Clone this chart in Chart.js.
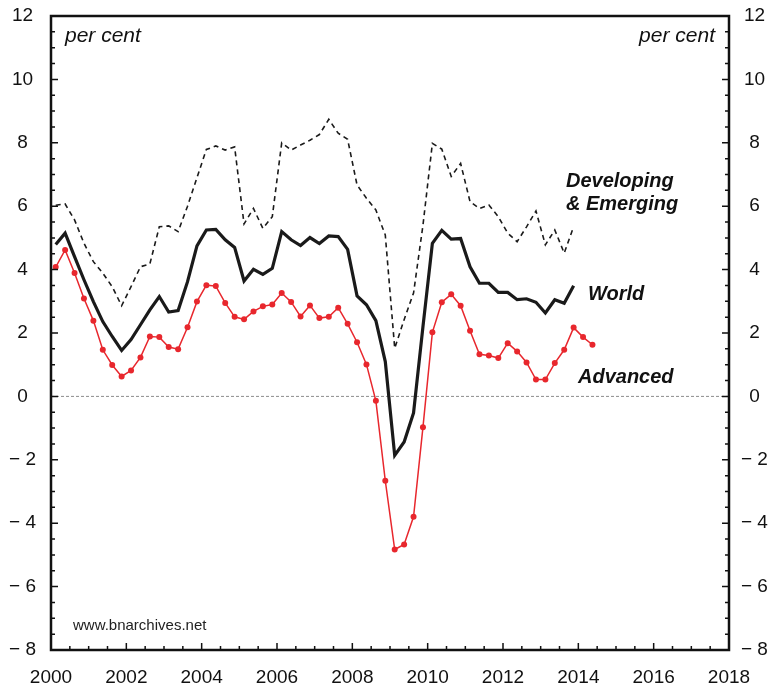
<!DOCTYPE html>
<html>
<head>
<meta charset="utf-8">
<script src="https://cdn.jsdelivr.net/npm/chart.js@4"></script>
<style>
  html, body { margin: 0; padding: 0; background: #fff; }
</style>
</head>
<body>
<canvas id="chart" width="777" height="686"></canvas>
<script>
// quarterly growth rates, per cent, starting 2000 Q1
const advanced = [4.08, 4.62, 3.89, 3.09, 2.39, 1.47, 0.99, 0.63, 0.82, 1.23,
  1.89, 1.87, 1.56, 1.49, 2.18, 2.99, 3.51, 3.48, 2.95, 2.51,
  2.43, 2.68, 2.84, 2.90, 3.26, 2.98, 2.52, 2.87, 2.47, 2.51,
  2.80, 2.29, 1.71, 1.01, -0.14, -2.66, -4.83, -4.67, -3.80, -0.97,
  2.02, 2.97, 3.22, 2.86, 2.07, 1.33, 1.29, 1.21, 1.68, 1.42,
  1.07, 0.53, 0.53, 1.05, 1.47, 2.17, 1.87, 1.63];
const world = [4.79, 5.15, 4.41, 3.68, 2.99, 2.36, 1.89, 1.45, 1.79, 2.26,
  2.73, 3.15, 2.66, 2.71, 3.62, 4.75, 5.25, 5.27, 4.94, 4.70,
  3.64, 4.01, 3.85, 4.04, 5.20, 4.94, 4.76, 5.01, 4.82, 5.06,
  5.04, 4.64, 3.17, 2.89, 2.39, 1.10, -1.86, -1.44, -0.52, 2.20,
  4.83, 5.24, 4.96, 4.98, 4.09, 3.57, 3.57, 3.28, 3.28, 3.05,
  3.08, 2.97, 2.63, 3.05, 2.94, 3.49];
const developing = [6.03, 6.07, 5.57, 4.83, 4.25, 3.89, 3.46, 2.86, 3.46, 4.09,
  4.18, 5.35, 5.38, 5.20, 6.00, 6.90, 7.79, 7.90, 7.77, 7.87,
  5.44, 5.93, 5.30, 5.67, 8.00, 7.77, 7.93, 8.08, 8.26, 8.74,
  8.30, 8.11, 6.67, 6.25, 5.88, 5.09, 1.52, 2.42, 3.26, 5.40,
  7.98, 7.80, 6.94, 7.35, 6.14, 5.93, 6.04, 5.67, 5.15, 4.88,
  5.35, 5.85, 4.78, 5.25, 4.52, 5.35];

const startYear = 2000;
const xLabelYears = [2000, 2002, 2004, 2006, 2008, 2010, 2012, 2014, 2016, 2018];
const yLabelValues = [-8, -6, -4, -2, 0, 2, 4, 6, 8, 10, 12];

const FONT = "'Liberation Sans', Arial, Helvetica, sans-serif";

// each quarter plotted at its middle
const toPoints = arr => arr.map((v, i) => ({ x: startYear + (i + 0.5) / 4, y: v }));

const yLabel = v => {
  if (!yLabelValues.includes(v)) return '';
  return v < 0 ? '\u2212 ' + Math.abs(v) : String(v);
};

const framePlugin = {
  id: 'frame',
  beforeDatasetsDraw(chart) {
    const { ctx, chartArea: a, scales: { y } } = chart;
    const y0 = y.getPixelForValue(0);
    ctx.save();
    ctx.strokeStyle = '#8c8c8c';
    ctx.lineWidth = 1;
    ctx.setLineDash([3, 2]);
    ctx.beginPath();
    ctx.moveTo(a.left, y0);
    ctx.lineTo(a.right, y0);
    ctx.stroke();
    ctx.restore();
  },
  afterDraw(chart) {
    const { ctx, chartArea: a, scales: { x, y } } = chart;
    ctx.save();
    ctx.strokeStyle = '#111';
    ctx.lineWidth = 1.5;
    ctx.beginPath();
    x.ticks.forEach(t => {
      const px = x.getPixelForValue(t.value);
      const len = xLabelYears.includes(t.value) ? 7 : 4;
      ctx.moveTo(px, a.bottom);
      ctx.lineTo(px, a.bottom - len);
    });
    y.ticks.forEach(t => {
      const py = y.getPixelForValue(t.value);
      const len = yLabelValues.includes(t.value) ? 7 : 4;
      ctx.moveTo(a.left, py);
      ctx.lineTo(a.left + len, py);
      ctx.moveTo(a.right, py);
      ctx.lineTo(a.right - len, py);
    });
    ctx.stroke();

    ctx.lineWidth = 2.5;
    ctx.strokeRect(a.left, a.top, a.right - a.left, a.bottom - a.top);

    ctx.fillStyle = '#111';
    ctx.textBaseline = 'middle';
    ctx.font = 'italic 21px ' + FONT;
    ctx.textAlign = 'left';
    ctx.fillText('per cent', 65, 36);
    ctx.textAlign = 'right';
    ctx.fillText('per cent', 715, 36);

    ctx.textAlign = 'left';
    ctx.font = 'italic bold 20px ' + FONT;
    ctx.fillText('Developing', 566, 181);
    ctx.fillText('& Emerging', 566, 204);
    ctx.fillText('World', 588, 294);
    ctx.fillText('Advanced', 578, 377);

    ctx.font = '15px ' + FONT;
    ctx.fillStyle = '#222';
    ctx.fillText('www.bnarchives.net', 73, 626);
    ctx.restore();
  }
};

const tickFont = { family: FONT, size: 19 };

const fitY = width => s => {
  s.width = width;
  s.paddingTop = 0;
  s.paddingBottom = 0;
};

new Chart(document.getElementById('chart'), {
  type: 'line',
  data: {
    datasets: [
      {
        label: 'Advanced',
        data: toPoints(advanced),
        borderColor: '#e8272d',
        backgroundColor: '#e8272d',
        borderWidth: 1.5,
        pointRadius: 3,
        pointBorderWidth: 0,
        tension: 0
      },
      {
        label: 'World',
        data: toPoints(world),
        borderColor: '#1a1a1a',
        borderWidth: 3.2,
        pointRadius: 0,
        tension: 0
      },
      {
        label: 'Developing & Emerging',
        data: toPoints(developing),
        borderColor: '#1a1a1a',
        borderWidth: 1.6,
        borderDash: [5, 4],
        pointRadius: 0,
        tension: 0
      }
    ]
  },
  options: {
    responsive: false,
    animation: false,
    devicePixelRatio: 1,
    layout: { padding: { top: 16, left: 0, right: 0, bottom: 0 } },
    plugins: {
      legend: { display: false },
      tooltip: { enabled: false }
    },
    scales: {
      x: {
        type: 'linear',
        min: 2000,
        max: 2018,
        grid: { display: false, drawTicks: false },
        border: { display: false },
        ticks: {
          stepSize: 0.5,
          autoSkip: false,
          maxRotation: 0,
          padding: 16,
          color: '#111',
          font: tickFont,
          callback: v => xLabelYears.includes(v) ? String(v) : ''
        },
        afterFit: s => { s.height = 36; s.paddingLeft = 0; s.paddingRight = 0; }
      },
      y: {
        position: 'left',
        min: -8,
        max: 12,
        grid: { display: false, drawTicks: false },
        border: { display: false },
        ticks: {
          stepSize: 0.5,
          autoSkip: false,
          crossAlign: 'center',
          padding: 15,
          color: '#111',
          font: tickFont,
          callback: yLabel
        },
        afterFit: fitY(51)
      },
      y2: {
        position: 'right',
        min: -8,
        max: 12,
        grid: { display: false, drawTicks: false },
        border: { display: false },
        ticks: {
          stepSize: 0.5,
          autoSkip: false,
          crossAlign: 'center',
          padding: 12,
          color: '#111',
          font: tickFont,
          callback: yLabel
        },
        afterFit: fitY(48)
      }
    }
  },
  plugins: [framePlugin]
});
</script>
</body>
</html>
